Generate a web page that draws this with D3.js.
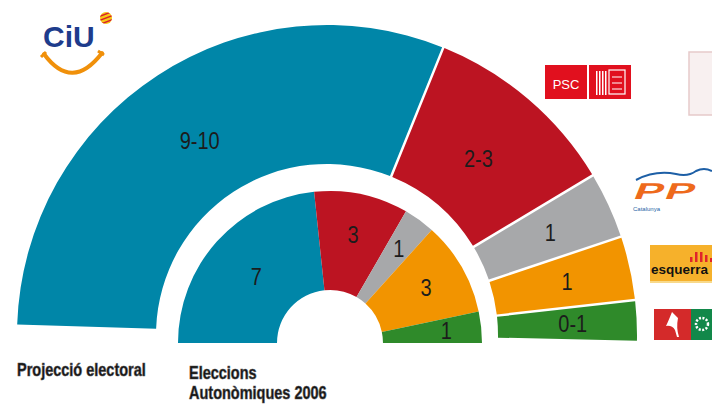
<!DOCTYPE html>
<html>
<head>
<meta charset="utf-8">
<script src="https://cdn.jsdelivr.net/npm/d3@7"></script>
<style>
  html, body { margin: 0; padding: 0; background: #fff; }
  svg { display: block; }
  text { font-family: "Liberation Sans", Arial, sans-serif; }
</style>
</head>
<body>
<svg id="chart" width="712" height="406"></svg>
<script>
// ---- data ----
const parties = ["CiU", "PSC", "PP", "ERC", "ICV-EUiA"];
const partyColors = ["#0086a8", "#bc1422", "#a7a8aa", "#f29400", "#2f8a2a"];
// Projecció electoral (outer ring): estimated seat shares and their labels
const outerShares = [9.19, 3.08, 1.04, 1.0, 0.65];
const outerLabels = ["9-10", "2-3", "1", "1", "0-1"];
// Eleccions Autonòmiques 2006 (inner ring): seats
const innerSeats = [7, 3, 1, 3, 1];
const innerLabels = ["7", "3", "1", "3", "1"];
const captionOuter = "Projecció electoral";
const captionInner = ["Eleccions", "Autonòmiques 2006"];

// ---- drawing ----
const svg = d3.select("#chart");
const deg = Math.PI / 180;

// Outer ring
const outerG = svg.append("g").attr("transform", "translate(327,335)");
const outerPie = d3.pie().sort(null).value(d => d)
  .startAngle(-88.3 * deg).endAngle(91.3 * deg);
const outerArcs = outerPie(outerShares);
const outerArc = d3.arc().innerRadius(171).outerRadius(310)
  .padAngle(2.5 / 310).padRadius(310);
outerG.selectAll("path").data(outerArcs).join("path")
  .attr("d", outerArc)
  .attr("fill", (d, i) => partyColors[i]);
outerG.selectAll("text").data(outerArcs).join("text")
  .attr("transform", (d, i) => {
    const r = outerShares[i] > 2 ? 233 : 246;
    const c = d3.arc().innerRadius(r).outerRadius(r).centroid(d);
    return `translate(${c[0]},${c[1]}) scale(1,1.2)`;
  })
  .attr("text-anchor", "middle")
  .attr("dy", "0.36em")
  .attr("font-size", 20)
  .attr("fill", "#1c1c1c")
  .text((d, i) => outerLabels[i]);

// Inner ring
const innerG = svg.append("g").attr("transform", "translate(330,343)");
const innerPie = d3.pie().sort(null).value(d => d)
  .startAngle(-90 * deg).endAngle(90 * deg);
const innerArcs = innerPie(innerSeats);
const innerArc = d3.arc().innerRadius(53).outerRadius(152);
innerG.selectAll("path").data(innerArcs).join("path")
  .attr("d", innerArc)
  .attr("fill", (d, i) => partyColors[i]);
innerG.selectAll("text").data(innerArcs).join("text")
  .attr("transform", (d, i) => {
    const r = 120 - 3 * innerSeats[i];
    const c = d3.arc().innerRadius(r).outerRadius(r).centroid(d);
    return `translate(${c[0]},${c[1]}) scale(1,1.2)`;
  })
  .attr("text-anchor", "middle")
  .attr("dy", "0.36em")
  .attr("font-size", 20)
  .attr("fill", "#1c1c1c")
  .text((d, i) => innerLabels[i]);

// Captions
function caption(x, y, str) {
  svg.append("text")
    .attr("transform", `translate(${x},${y}) scale(1,1.3)`)
    .attr("font-size", 14.5)
    .attr("font-weight", "bold")
    .attr("fill", "#111")
    .attr("stroke", "#555")
    .attr("stroke-width", 0.5)
    .text(str);
}
caption(17, 376, captionOuter);
caption(189, 379, captionInner[0]);
caption(189, 399, captionInner[1]);

// ---- party logos (decorative) ----
// CiU
const ciu = svg.append("g");
ciu.append("text").attr("x", 43).attr("y", 47)
  .attr("font-size", 30).attr("font-weight", "bold")
  .attr("fill", "#1e3c8c").text("CiU");
ciu.append("path").attr("d", "M44,54 Q72,92 102,53")
  .attr("fill", "none").attr("stroke", "#f0900a").attr("stroke-width", 4)
  .attr("stroke-linecap", "round");
ciu.append("path").attr("d", "M41,57 L46,52 M98,51 L104,55")
  .attr("fill", "none").attr("stroke", "#f0900a").attr("stroke-width", 3);
const clip = svg.append("defs").append("clipPath").attr("id", "ball");
clip.append("circle").attr("cx", 106).attr("cy", 18).attr("r", 6);
ciu.append("circle").attr("cx", 106).attr("cy", 18).attr("r", 6).attr("fill", "#f7c814");
const stripes = ciu.append("g").attr("clip-path", "url(#ball)");
[-4, 0, 4].forEach(o => {
  stripes.append("line").attr("x1", 98).attr("y1", 18 + o + 3).attr("x2", 114).attr("y2", 18 + o - 3)
    .attr("stroke", "#d8202a").attr("stroke-width", 1.6);
});

// PSC
const psc = svg.append("g");
psc.append("rect").attr("x", 545).attr("y", 65).attr("width", 42).attr("height", 34).attr("fill", "#e1101e");
psc.append("rect").attr("x", 589).attr("y", 65).attr("width", 42).attr("height", 34).attr("fill", "#e1101e");
psc.append("text").attr("x", 566).attr("y", 89).attr("text-anchor", "middle")
  .attr("font-size", 13).attr("fill", "#fff").attr("font-weight", "300").text("PSC");
[596, 599, 602, 605].forEach(x => {
  psc.append("rect").attr("x", x).attr("y", 71).attr("width", 1.5).attr("height", 24).attr("fill", "#fff");
});
psc.append("rect").attr("x", 609).attr("y", 70).attr("width", 16).attr("height", 24)
  .attr("fill", "none").attr("stroke", "#fff").attr("stroke-width", 1.2);
psc.append("path").attr("d", "M612,77 h10 M612,83 h10 M612,89 h10").attr("stroke", "#fff").attr("stroke-width", 1);

// pale cropped logo
svg.append("rect").attr("x", 689).attr("y", 52).attr("width", 30).attr("height", 63)
  .attr("fill", "#f8f0f0").attr("stroke", "#e6caca").attr("stroke-width", 1.5);

// PP
const pp = svg.append("g");
pp.append("path").attr("d", "M636,180 Q655,170 676,174 Q688,177 696,171 Q704,167 712,171")
  .attr("fill", "none").attr("stroke", "#1d5fa6").attr("stroke-width", 2);
pp.append("text").attr("transform", "translate(632,199) scale(1.9,1) skewX(-12)")
  .attr("font-size", 23).attr("font-weight", "bold")
  .attr("fill", "#ee6a1c").attr("letter-spacing", 1).text("PP");
pp.append("text").attr("x", 633).attr("y", 211)
  .attr("font-size", 6).attr("fill", "#1d5fa6").text("Catalunya");

// ERC
const erc = svg.append("g");
erc.append("rect").attr("x", 650).attr("y", 245).attr("width", 62).attr("height", 36).attr("fill", "#f6b12b");
erc.append("rect").attr("x", 650).attr("y", 281).attr("width", 62).attr("height", 2).attr("fill", "#f8d98a");
[[690, 257], [695, 252], [700, 252], [705, 255], [710, 258]].forEach(([x, y]) => {
  erc.append("rect").attr("x", x).attr("y", y).attr("width", 2.5).attr("height", 262 - y).attr("fill", "#e0242a");
});
erc.append("text").attr("x", 651).attr("y", 274)
  .attr("font-size", 13.5).attr("font-weight", "bold").attr("fill", "#111").text("esquerra");

// ICV-EUiA
const icv = svg.append("g");
icv.append("rect").attr("x", 654).attr("y", 309).attr("width", 37).attr("height", 31).attr("fill", "#d42a2a");
icv.append("rect").attr("x", 691).attr("y", 309).attr("width", 21).attr("height", 31).attr("fill", "#12884a");
icv.append("path").attr("d", "M672,312 Q668,322 666,326 Q672,325 675,330 L677,337 L679,337 Q676,328 678,318 Z")
  .attr("fill", "#fff");
icv.append("circle").attr("cx", 702).attr("cy", 324).attr("r", 6)
  .attr("fill", "none").attr("stroke", "#fff").attr("stroke-width", 2.5).attr("stroke-dasharray", "2 1.5");
</script>
</body>
</html>
